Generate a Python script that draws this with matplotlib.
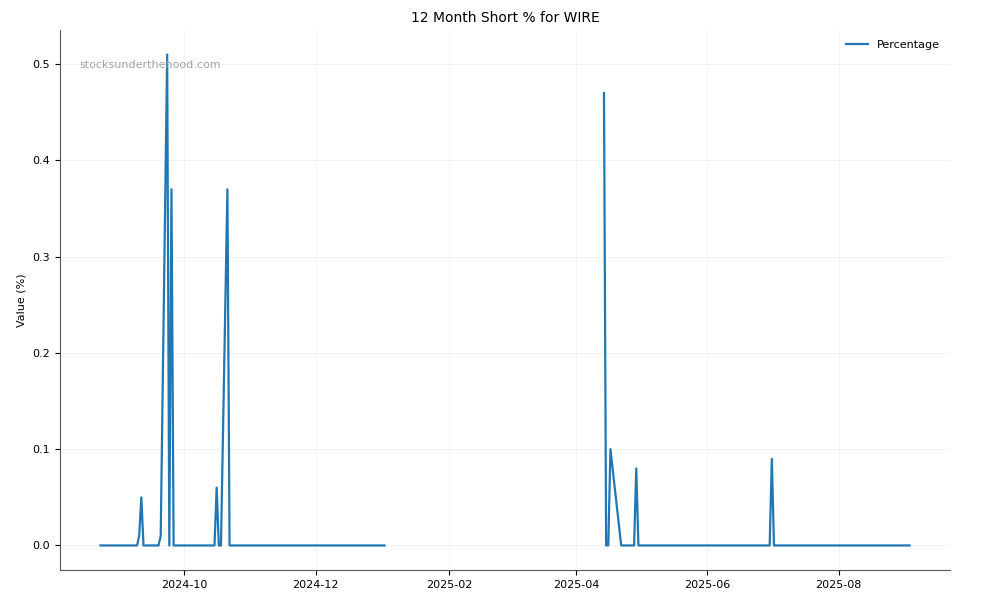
import numpy as np
import pandas as pd
import matplotlib
matplotlib.use('Agg')
import matplotlib.pyplot as plt

# corner points of the series (flat zero runs in between), NaN marks the data gap
dates = ['2024-08-23', '2024-09-09', '2024-09-10', '2024-09-11', '2024-09-12',
         '2024-09-19', '2024-09-20', '2024-09-23', '2024-09-24', '2024-09-25',
         '2024-09-26', '2024-10-15', '2024-10-16', '2024-10-17', '2024-10-18',
         '2024-10-21', '2024-10-22', '2025-01-02',
         '2025-02-15',
         '2025-04-14', '2025-04-15', '2025-04-16', '2025-04-17', '2025-04-22',
         '2025-04-28', '2025-04-29', '2025-04-30', '2025-06-30', '2025-07-01',
         '2025-07-02', '2025-09-03']
pct = [0, 0, 0.01, 0.05, 0, 0, 0.01, 0.51, 0, 0.37,
       0, 0, 0.06, 0, 0, 0.37, 0, 0,
       np.nan,
       0.47, 0, 0, 0.10, 0, 0, 0.08, 0, 0, 0.09,
       0, 0]

x = pd.to_datetime(dates)

fig = plt.figure(figsize=(10, 6), dpi=100)
ax = fig.add_axes([0.06, 0.05, 0.89, 0.9])
ax.plot(x, pct, color='#1f77b4', linewidth=1.6, label='Percentage')

ax.set_title('12 Month Short % for WIRE', fontsize=10)
ax.set_ylabel('Value (%)', fontsize=8)
ax.tick_params(labelsize=8)
ax.grid(True, color='#e8e8e8', linewidth=0.6, alpha=0.6)
ax.spines['top'].set_visible(False)
ax.spines['right'].set_visible(False)
ax.spines['left'].set_color('#555555')
ax.spines['bottom'].set_color('#555555')

import matplotlib.dates as mdates
ax.xaxis.set_major_locator(mdates.MonthLocator(bymonth=[2, 4, 6, 8, 10, 12]))
ax.xaxis.set_major_formatter(mdates.DateFormatter('%Y-%m'))

ax.text(0.022, 0.935, 'stocksunderthehood.com', transform=ax.transAxes,
        fontsize=8, color='#999999', alpha=0.9, va='center')
ax.legend(loc='upper right', frameon=False, fontsize=8)

fig.savefig('out.png')
